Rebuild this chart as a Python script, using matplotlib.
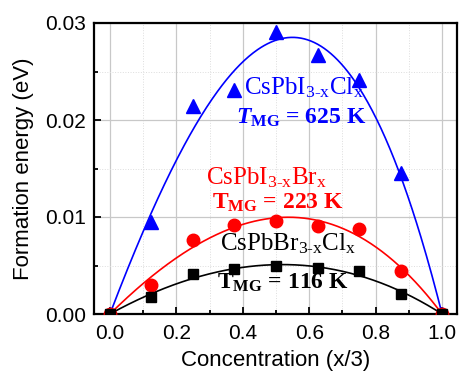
import numpy as np
import matplotlib
matplotlib.use("Agg")
import matplotlib.pyplot as plt
from matplotlib.ticker import MultipleLocator

plt.rcParams['font.family'] = ['Liberation Sans', 'DejaVu Sans']
plt.rcParams['mathtext.fontset'] = 'custom'
plt.rcParams['mathtext.rm'] = 'Liberation Serif'
plt.rcParams['mathtext.it'] = 'Liberation Serif:italic'
plt.rcParams['mathtext.bf'] = 'Liberation Serif:bold'
plt.rcParams['mathtext.bfit'] = 'Liberation Serif:italic:bold'

conc = [0.0, 0.125, 0.25, 0.375, 0.5, 0.625, 0.75, 0.875, 1.0]
e_icl = [0.0, 0.0095, 0.0214, 0.0231, 0.0291, 0.0267, 0.0241, 0.0145, 0.0]
e_ibr = [0.0, 0.0030, 0.0076, 0.0092, 0.0096, 0.0091, 0.0088, 0.00445, 0.0]
e_brcl = [0.0, 0.0018, 0.0041, 0.0046, 0.0049, 0.0047, 0.0044, 0.0021, 0.0]

xticks = [0.0, 0.2, 0.4, 0.6, 0.8, 1.0]
yticks = [0.00, 0.01, 0.02, 0.03]

fig = plt.figure(figsize=(4.6, 3.75), dpi=100)
ax = fig.add_axes([94/460, 1 - 314/375, (457-94)/460, (314-23)/375])

def fit_curve(x, y):
    x = np.asarray(x); y = np.asarray(y)
    A = np.column_stack([x*(1-x), x*x*(1-x)])
    coef, *_ = np.linalg.lstsq(A, y, rcond=None)
    xs = np.linspace(0, 1, 300)
    return xs, xs*(1-xs)*(coef[0] + coef[1]*xs)

for y, col, mk, ms in [(e_icl, 'blue', '^', 10.5), (e_ibr, 'red', 'o', 9), (e_brcl, 'black', 's', 7.5)]:
    xs, ys = fit_curve(conc, y)
    ax.plot(xs, ys, color=col, lw=1.2, zorder=3)
    ax.plot(conc, y, ls='none', marker=mk, ms=ms, color=col, zorder=4)

ax.set_xlim(-0.048, 1.045)
ax.set_ylim(0, 0.03)
ax.set_xticks(xticks)
ax.set_xticklabels([f"{v:.1f}" for v in xticks])
ax.set_yticks(yticks)
ax.set_yticklabels([f"{v:.2f}" for v in yticks])
ax.xaxis.set_minor_locator(MultipleLocator(0.1))
ax.yaxis.set_minor_locator(MultipleLocator(0.005))
ax.grid(True, which='major', color='#c8c8c8', lw=0.9)
ax.grid(True, which='minor', color='#dddddd', lw=0.7, ls=':')
ax.set_axisbelow(True)
ax.tick_params(which='both', direction='in', labelsize=15, width=1.3)
ax.tick_params(which='major', length=5)
ax.tick_params(which='minor', length=3)
ax.tick_params(axis='x', which='major', pad=7)
ax.tick_params(axis='y', which='major', pad=6)
for s in ax.spines.values():
    s.set_linewidth(1.6)

ax.set_xlabel('Concentration (x/3)', fontsize=16, labelpad=5)
ax.set_ylabel('Formation energy (eV)', fontsize=16, labelpad=8)

fs = 18
serif = 'Liberation Serif'
ax.text(0.585, 0.0233, r'CsPbI$_{\mathrm{3\text{-}x}}$Cl$_{\mathrm{x}}$', color='blue', fontsize=fs,
        family=serif, ha='center', va='center', zorder=5)
ax.text(0.575, 0.0202, r'$\mathbfit{T}_{\mathbf{MG}}$ = 625 K', color='blue', fontsize=17,
        family=serif, fontweight='bold', ha='center', va='center', zorder=5)
ax.text(0.47, 0.0140, r'CsPbI$_{\mathrm{3\text{-}x}}$Br$_{\mathrm{x}}$', color='red', fontsize=fs,
        family=serif, ha='center', va='center', zorder=5)
ax.text(0.505, 0.01144, r'$\mathbf{T_{MG}}$ = 223 K', color='red', fontsize=17,
        family=serif, fontweight='bold', ha='center', va='center', zorder=5)
ax.text(0.537, 0.0072, r'CsPbBr$_{\mathrm{3\text{-}x}}$Cl$_{\mathrm{x}}$', color='black', fontsize=fs,
        family=serif, ha='center', va='center', zorder=5)
ax.text(0.52, 0.0032, r'$\mathbf{T_{MG}}$ = 116 K', color='black', fontsize=17,
        family=serif, fontweight='bold', ha='center', va='center', zorder=5)

fig.savefig('out.png', dpi=100)
